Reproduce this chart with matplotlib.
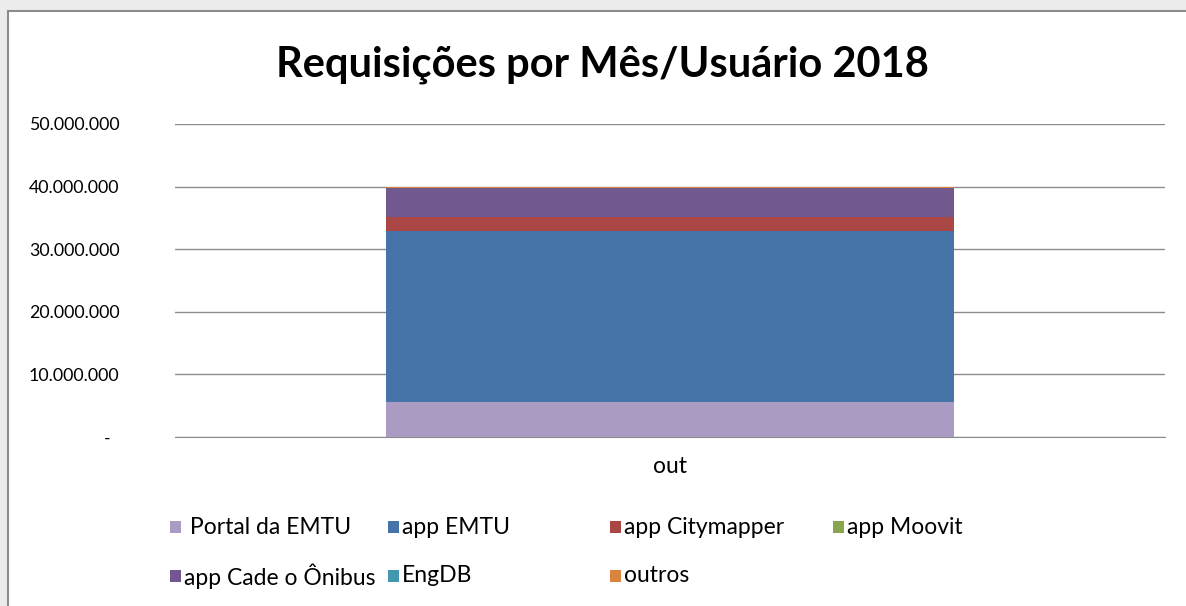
import matplotlib.pyplot as plt
from matplotlib.patches import Rectangle
from matplotlib.ticker import FuncFormatter

categories = ["out"]
series = [" Portal da EMTU", "app EMTU", "app Citymapper", "app Moovit",
          "app Cade o Ônibus", "EngDB", "outros"]
values = [5600000, 27300000, 2300000, 20000, 4500000, 20000, 220000]
colors = ["#A99BC1", "#4674A8", "#AA4744", "#89A54E", "#71598F", "#4298AF", "#DB843D"]
yticks = [0, 10000000, 20000000, 30000000, 40000000, 50000000]

plt.rcParams['font.family'] = ['Lato', 'DejaVu Sans']

fig = plt.figure(figsize=(11.86, 6.06), dpi=100)
fig.patch.set_facecolor('#ececec')
# white chart area with grey border
fig.patches.append(Rectangle((8 / 1186, -0.1), 1.1, 1 - 11 / 606 + 0.1,
                             transform=fig.transFigure, facecolor='white',
                             edgecolor='#8c8c8c', linewidth=1.5, zorder=-5))

ax = fig.add_axes([175 / 1186, 1 - 437 / 606, 990 / 1186, 313 / 606])
ax.patch.set_alpha(0)

bottom = 0
for name, v, c in zip(series, values, colors):
    ax.bar(categories, [v], bottom=bottom, width=0.573, color=c, label=name, zorder=3)
    bottom += v

ax.set_xlim(-0.5, 0.5)
ax.set_ylim(0, 50000000)
ax.set_yticks(yticks)

def fmt(v, pos):
    if v == 0:
        return "-  "
    return f"{int(v):,}".replace(",", ".")

ax.yaxis.set_major_formatter(FuncFormatter(fmt))
ax.grid(axis='y', color='#8c8c8c', linewidth=1, zorder=0)
for s in ['top', 'right', 'left']:
    ax.spines[s].set_visible(False)
ax.spines['bottom'].set_color('#8c8c8c')
ax.tick_params(axis='y', length=0, labelsize=12.8, pad=40)
ax.tick_params(axis='x', length=0, labelsize=16.5, pad=14)

fig.text(602 / 1186, 1 - 65 / 606, "Requisições por Mês/Usuário 2018",
         ha='center', va='center', fontsize=30, fontweight='bold')

# legend laid out as in the original: 4 columns, 2 rows
col_x = [170, 388, 610, 833]
row_y = [527, 576]
for i, (name, c) in enumerate(zip(series, colors)):
    r, k = divmod(i, 4)
    x0 = col_x[k] / 1186
    y0 = 1 - row_y[r] / 606
    fig.patches.append(Rectangle((x0, y0 - 6 / 606), 11 / 1186, 12 / 606,
                                 transform=fig.transFigure, facecolor=c,
                                 edgecolor='none'))
    fig.text(x0 + 14 / 1186, y0, name, ha='left', va='center', fontsize=16.5)

fig.savefig("out.png", dpi=100, facecolor=fig.get_facecolor())
